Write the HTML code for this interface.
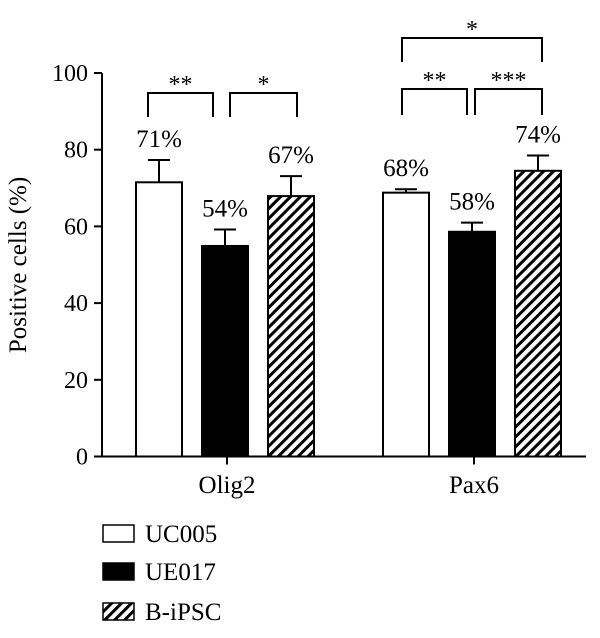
<!DOCTYPE html>
<html><head><meta charset="utf-8"><style>
body{margin:0;background:#fff}
svg text{font-family:"Liberation Serif",serif;fill:#000}
</style></head><body>
<svg width="600" height="633" viewBox="0 0 600 633">
<defs><pattern id="hatch" patternUnits="userSpaceOnUse" width="7" height="7" patternTransform="rotate(45)"><rect width="7" height="7" fill="#fff"/><rect x="0" y="0" width="3" height="7" fill="#000"/></pattern></defs>
<g id="plot"></g>
</svg>
<script>
const categories=["Olig2","Pax6"];
const seriesNames=["UC005","UE017","B-iPSC"];
const means=[[71.5,54.9,67.9],[68.8,58.6,74.5]];
const errors=[[5.8,4.3,5.2],[0.9,2.4,4.0]];
const labels=[["71%","54%","67%"],["68%","58%","74%"]];
const yTicks=[0,20,40,60,80,100];
const NS="http://www.w3.org/2000/svg";
const g=document.getElementById('plot');
const y0=456.5,yPer=3.835;
const y=v=>y0-v*yPer;
const catCenter=i=>227+i*247;
const barX=(i,j)=>catCenter(i)-91+j*66;
const fills=["#fff","#000","url(#hatch)"];
function mk(tag,a,p){const e=document.createElementNS(NS,tag);for(const k in a)e.setAttribute(k,a[k]);(p||g).appendChild(e);return e;}
let e;
e=mk('line',{x1:102,y1:y(100),x2:102,y2:y0+1,stroke:'#000','stroke-width':2});


e=mk('line',{x1:101,y1:y0,x2:586,y2:y0,stroke:'#000','stroke-width':2});


yTicks.forEach(t=>{
 e=mk('line',{x1:94,y1:y(t),x2:102,y2:y(t),stroke:'#000','stroke-width':2});
 
 
 e=mk('text',{x:88,y:y(t)+8,'text-anchor':'end','font-size':24});
 e.textContent=t;
 
 
});
e=mk('text',{x:0,y:0,'text-anchor':'middle','font-size':25,transform:'translate(26,265) rotate(-90)'});
e.textContent='Positive cells (%)';


categories.forEach((c,i)=>{
 e=mk('line',{x1:catCenter(i),y1:y0,x2:catCenter(i),y2:y0+8,stroke:'#000','stroke-width':2});
 
 
 e=mk('text',{x:catCenter(i),y:493,'text-anchor':'middle','font-size':25});
 e.textContent=c;
 
 
 means[i].forEach((m,j)=>{
  const x=barX(i,j),w=46,cx=x+w/2,top=y(m+errors[i][j]);
  e=mk('line',{x1:cx,y1:y(m),x2:cx,y2:top,stroke:'#000','stroke-width':2});
  
  
  e=mk('line',{x1:cx-11,y1:top,x2:cx+11,y2:top,stroke:'#000','stroke-width':2});
  
  
  e=mk('rect',{x:x,y:y(m),width:w,height:y0-y(m),fill:fills[j],stroke:'#000','stroke-width':2});
  
  
  e=mk('text',{x:cx,y:top-13,'text-anchor':'middle','font-size':25});
  e.textContent=labels[i][j];
  
  
 });
});
function bracket(x1,x2,yt,yb,s,name){
 e=mk('path',{d:`M${x1},${yb}V${yt}H${x2}V${yb}`,fill:'none',stroke:'#000','stroke-width':2});
 
 
 e=mk('text',{x:(x1+x2)/2,y:yt-1,'text-anchor':'middle','font-size':24});
 e.textContent=s;
 
 
}
bracket(148,213,93,117,'**','bracket-olig2-1');
bracket(230,297,93,117,'*','bracket-olig2-2');
bracket(402,467,89,115,'**','bracket-pax6-1');
bracket(475,542,89,115,'***','bracket-pax6-2');
bracket(402,542,38,62,'*','bracket-pax6-3');
const legY=[525,563,603];
seriesNames.forEach((s,j)=>{
 e=mk('rect',{x:103,y:legY[j],width:31,height:17,fill:fills[j],stroke:'#000','stroke-width':1.5});
 
 
 e=mk('text',{x:145,y:legY[j]+17,'font-size':25});
 e.textContent=s;
 
 
});
</script>
</body></html>
